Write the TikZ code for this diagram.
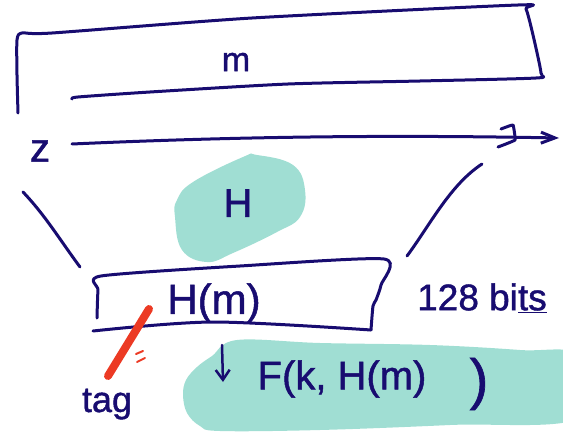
\documentclass[tikz,border=0pt]{standalone}
\usepackage{fontspec}
\setmainfont{Liberation Sans}
\newfontfamily\handfont{Liberation Sans}[FakeBold=1.2]
\usetikzlibrary{arrows.meta}

\definecolor{ink}{RGB}{24,12,112}
\definecolor{mint}{RGB}{160,222,211}
\definecolor{marker}{RGB}{236,58,36}

\begin{document}
\begin{tikzpicture}[x=1pt, y=-1pt,
    pen/.style={ink, line width=3pt, line cap=round, line join=round},
    hand/.style={ink, inner sep=0pt, font=\handfont\fontsize{#1}{#1}\selectfont}]
    \useasboundingbox (0,0) rectangle (563,436);
    \clip (0,0) rectangle (563,436);

    % Highlighter blobs
    \fill[mint] plot[smooth cycle, tension=0.7] coordinates {(193,182) (243,157) (257,155) (293,165) (305,190) (300,217) (277,232) (233,253) (207,262) (182,250) (175,217) (177,200)};
    \fill[mint] plot[smooth cycle, tension=0.6] coordinates {(237,340) (320,343) (430,345) (520,350) (580,356) (580,418) (450,425) (320,430) (220,431) (200,426) (187,413) (183,395) (186,380) (197,367) (212,356)};

    % Message box
    \draw[pen] plot[smooth, tension=0.4] coordinates {(18,113) (17,75) (17,40) (22,33) (52,33) (252,18) (518,5) (526,9) (533,35) (541,73) (536,78) (420,81) (288,84) (150,92) (78,97) (72,99)};
    \node[hand=34] (msg) at (236,62) {m};

    % Range arrow
    \node[hand=40] (zlab) at (40,151) {z};
    \coordinate (lo) at (72,144);
    \coordinate (hi) at (559,138);
    \draw[pen, -{Straight Barb[length=14pt, width=11pt]}] (lo) .. controls (250,136) and (400,135) .. (hi);
    \draw[pen] plot[smooth, tension=0.15] coordinates {(501,129) (513,125) (515,140) (498,147)};

    % Funnel
    \draw[pen] (23,192) .. controls (45,215) and (60,240) .. (80,267);
    \draw[pen] (482,164) .. controls (450,185) and (430,225) .. (407,256);
    \node[hand=40] (hash) at (238,203) {H};

    % Digest box
    \draw[pen] plot[smooth, tension=0.4] coordinates {(97,318) (98,290) (101,276) (240,266) (384,259) (381,285) (376,300) (373,306) (371,330)};
    \draw[pen] plot[smooth, tension=0.5] coordinates {(93,331) (213,322) (371,330)};
    \node[hand=42] (digest) at (214,303) {H(m)};
    \node[hand=37] (bits) at (482,298) {128 bi\underline{ts}};

    % Tag mark
    \draw[marker, line width=8pt, line cap=round] (149,309) -- (108,376);
    \draw[marker, line width=2pt, line cap=round] (136,354) -- (143,351) (137,362) -- (145,358);
    \node[hand=36, anchor=base] (tag) at (107,412) {tag};

    % MAC
    \draw[ink, line width=2.5pt, line cap=round, -{Straight Barb[length=10pt, width=14pt]}] (222,345) -- (223,382);
    \node[hand=40] (mac) at (342,379) {F(k, H(m)};
    \node[hand=56] (close) at (479,384) {)};
\end{tikzpicture}
\end{document}
